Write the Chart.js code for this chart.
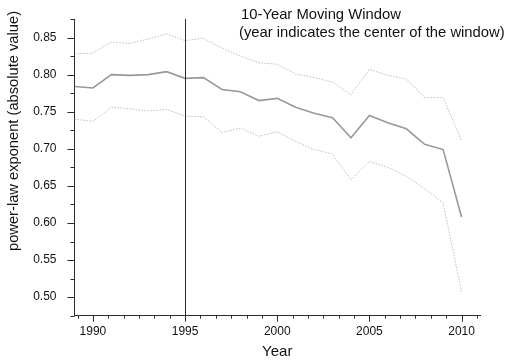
<!DOCTYPE html>
<html>
<head>
<meta charset="utf-8">
<script src="https://cdn.jsdelivr.net/npm/chart.js@4.4.1/dist/chart.umd.min.js"></script>
<style>
  html, body { margin: 0; padding: 0; background: #fff; }
  #chart { display: block; }
</style>
</head>
<body>
<canvas id="chart" width="507" height="360"></canvas>
<script>
// Center year of each 10-year window
const years = [1989, 1990, 1991, 1992, 1993, 1994, 1995, 1996, 1997, 1998, 1999,
               2000, 2001, 2002, 2003, 2004, 2005, 2006, 2007, 2008, 2009, 2010];

// Fitted power-law exponent (absolute value)
const exponent = [0.784, 0.782, 0.800, 0.799, 0.800, 0.804, 0.795, 0.796, 0.780, 0.777, 0.765,
                  0.768, 0.756, 0.748, 0.742, 0.715, 0.745, 0.735, 0.727, 0.706, 0.699, 0.608];

// Upper and lower confidence bounds
const upperBound = [0.828, 0.829, 0.844, 0.842, 0.848, 0.855, 0.846, 0.849, 0.836, 0.825, 0.816,
                    0.814, 0.801, 0.796, 0.790, 0.773, 0.807, 0.799, 0.794, 0.769, 0.769, 0.711];
const lowerBound = [0.740, 0.737, 0.756, 0.754, 0.751, 0.753, 0.744, 0.743, 0.722, 0.728, 0.717,
                    0.723, 0.710, 0.699, 0.693, 0.658, 0.683, 0.675, 0.663, 0.646, 0.627, 0.507];

// Axis ticks
const xTickLabels = [1990, 1995, 2000, 2005, 2010];
const yTickLabels = [0.50, 0.55, 0.60, 0.65, 0.70, 0.75, 0.80, 0.85];
const markerYear = 1995;

const noteLines = ['10-Year Moving Window', '(year indicates the center of the window)'];
const xTitle = 'Year';
const yTitle = 'power-law exponent (absolute value)';

const FONT = '"Liberation Sans", Arial, sans-serif';
const AXIS_COLOR = '#2a2a2a';

const toPoints = vals => years.map((y, i) => ({ x: y, y: vals[i] }));

// Tick marks (major + minor), the marker line and the free text
const decorations = {
  id: 'decorations',
  afterDraw(chart) {
    const { ctx, chartArea: a } = chart;
    const xs = chart.scales.x, ys = chart.scales.y;
    ctx.save();
    ctx.strokeStyle = AXIS_COLOR;
    ctx.lineWidth = 1;

    // vertical marker at the window boundary year
    const mx = Math.round(xs.getPixelForValue(markerYear)) + 0.5;
    ctx.beginPath();
    ctx.moveTo(mx, a.top);
    ctx.lineTo(mx, a.bottom);
    ctx.stroke();

    // x ticks: majors every 5 years, five minors between
    ctx.beginPath();
    for (let k = -6; k <= 30; k++) {
      const v = 1990 + k * 5 / 6;
      if (v < xs.min - 1e-9 || v > xs.max + 1e-9) continue;
      const px = Math.round(xs.getPixelForValue(v)) + 0.5;
      const len = (k % 6 === 0) ? 6 : 3;
      ctx.moveTo(px, a.bottom);
      ctx.lineTo(px, a.bottom + len);
    }
    ctx.stroke();

    // y ticks: majors every 0.05, one minor between
    ctx.beginPath();
    for (let k = 0; k <= 16; k++) {
      const v = 0.475 + k * 0.025;
      const px = Math.round(ys.getPixelForValue(v)) + 0.5;
      const len = (k % 2 === 1) ? 7 : 4;
      ctx.moveTo(a.left, px);
      ctx.lineTo(a.left - len, px);
    }
    ctx.stroke();

    // note text
    ctx.fillStyle = '#111';
    ctx.font = '14.8px ' + FONT;
    ctx.textAlign = 'left';
    ctx.textBaseline = 'middle';
    ctx.fillText(noteLines[0], 241, 15);
    ctx.fillText(noteLines[1], 239, 33);

    // axis titles
    ctx.font = '15px ' + FONT;
    ctx.textAlign = 'center';
    ctx.fillText(xTitle, (a.left + a.right) / 2, 352);

    ctx.font = '14.7px ' + FONT;
    ctx.translate(14, 131);
    ctx.rotate(-Math.PI / 2);
    ctx.fillText(yTitle, 0, 0);
    ctx.restore();
  }
};

new Chart(document.getElementById('chart'), {
  type: 'line',
  data: {
    datasets: [
      {
        data: toPoints(upperBound),
        borderColor: '#bdbdbd',
        borderWidth: 1,
        borderDash: [1.5, 1.5],
        pointRadius: 0,
        tension: 0
      },
      {
        data: toPoints(exponent),
        borderColor: '#999999',
        borderWidth: 1.6,
        pointRadius: 0,
        tension: 0
      },
      {
        data: toPoints(lowerBound),
        borderColor: '#bdbdbd',
        borderWidth: 1,
        borderDash: [1.5, 1.5],
        pointRadius: 0,
        tension: 0
      }
    ]
  },
  options: {
    responsive: false,
    animation: false,
    devicePixelRatio: 1,
    layout: { padding: { left: 0, right: 27, top: 19, bottom: 0 } },
    plugins: {
      legend: { display: false },
      tooltip: { enabled: false }
    },
    scales: {
      x: {
        type: 'linear',
        min: 1989,
        max: 2011,
        afterBuildTicks: s => { s.ticks = xTickLabels.map(v => ({ value: v })); },
        afterFit: s => { s.height = 44.3; },
        grid: { display: false },
        border: { display: true, color: AXIS_COLOR, width: 1 },
        ticks: {
          autoSkip: false,
          maxRotation: 0,
          padding: 1,
          color: '#111',
          font: { family: FONT, size: 12 },
          callback: v => String(v)
        }
      },
      y: {
        type: 'linear',
        min: 0.475,
        max: 0.875,
        afterBuildTicks: s => { s.ticks = yTickLabels.map(v => ({ value: v })); },
        afterFit: s => { s.width = 74.5; },
        grid: { display: false },
        border: { display: true, color: AXIS_COLOR, width: 1 },
        ticks: {
          padding: 10,
          color: '#111',
          font: { family: FONT, size: 12 },
          callback: v => Number(v).toFixed(2)
        }
      }
    }
  },
  plugins: [decorations]
});
</script>
</body>
</html>
